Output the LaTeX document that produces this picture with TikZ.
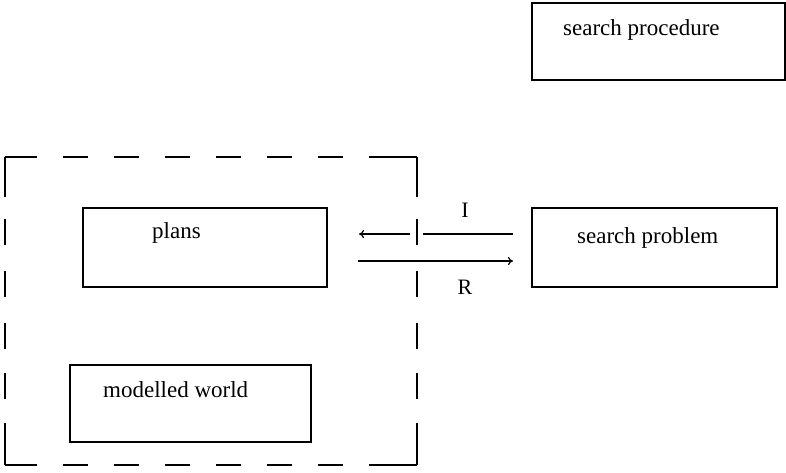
\documentclass[tikz,border=0pt]{standalone}
\usepackage{fontspec}
\setmainfont{Liberation Serif}
\usetikzlibrary{arrows.meta}
\begin{document}
\begin{tikzpicture}[x=1pt,y=-1pt,
  box/.style={draw, line width=1.2pt, rectangle, inner sep=0pt, outer sep=0pt},
  txt/.style={anchor=base west, inner sep=0pt, font=\fontsize{23}{27}\selectfont},
  lbl/.style={inner sep=0pt, font=\fontsize{22}{26}\selectfont},
  conn/.style={line width=1.2pt},
  arr/.style={conn, -{To[length=5pt,width=8pt]}},
  hdash/.style={line width=1.4pt, dash pattern=on 32pt off 26pt on 25pt off 26pt on 25pt off 26pt on 25pt off 26pt on 25pt off 26pt on 25pt off 26pt on 25pt off 26pt on 60pt},
  vdash/.style={line width=1.4pt, dash pattern=on 40pt off 22pt on 26pt off 26pt on 26pt off 26pt on 26pt off 24pt on 26pt off 24pt on 60pt}]
\useasboundingbox (0,0) rectangle (786,472);
% dashed container
\node[inner sep=0pt, outer sep=0pt, minimum width=412pt, minimum height=308pt] (world) at (211,311) {};
\draw[hdash] (world.north west) -- (world.north east);
\draw[hdash] (world.south west) -- (world.south east);
\draw[vdash] (world.north west) -- (world.south west);
\draw[vdash] (world.north east) -- (world.south east);
% boxes
\node[box, minimum width=253pt, minimum height=77pt] (sproc) at (658.5,41.5) {};
\node[box, minimum width=245pt, minimum height=79pt] (sprob) at (654.5,247.5) {};
\node[box, minimum width=244pt, minimum height=79pt] (plans) at (205,247.5) {};
\node[box, minimum width=241pt, minimum height=77pt] (mworld) at (190.5,403.5) {};
% texts
\node[txt] (sprocT) at (563,35) {search procedure};
\node[txt] (sprobT) at (577,243) {search problem};
\node[txt] (plansT) at (152,238) {plans};
\node[txt] (mworldT) at (103,397) {modelled world};
% connectors
\coordinate (gapR) at ([shift={(-109pt,13.5pt)}]sprob.west);
\coordinate (gapL) at ([shift={(83pt,13.5pt)}]plans.east);
\draw[conn] ([shift={(-19pt,13.5pt)}]sprob.west) -- (gapR);
\draw[arr] (gapL) -- ([shift={(32pt,13.5pt)}]plans.east);
\draw[arr] ([shift={(31pt,-13.5pt)}]plans.east) -- ([shift={(-19pt,-13.5pt)}]sprob.west);
\node[lbl] (I) at (465,210) {I};
\node[lbl] (R) at (465,287) {R};
\end{tikzpicture}
\end{document}
